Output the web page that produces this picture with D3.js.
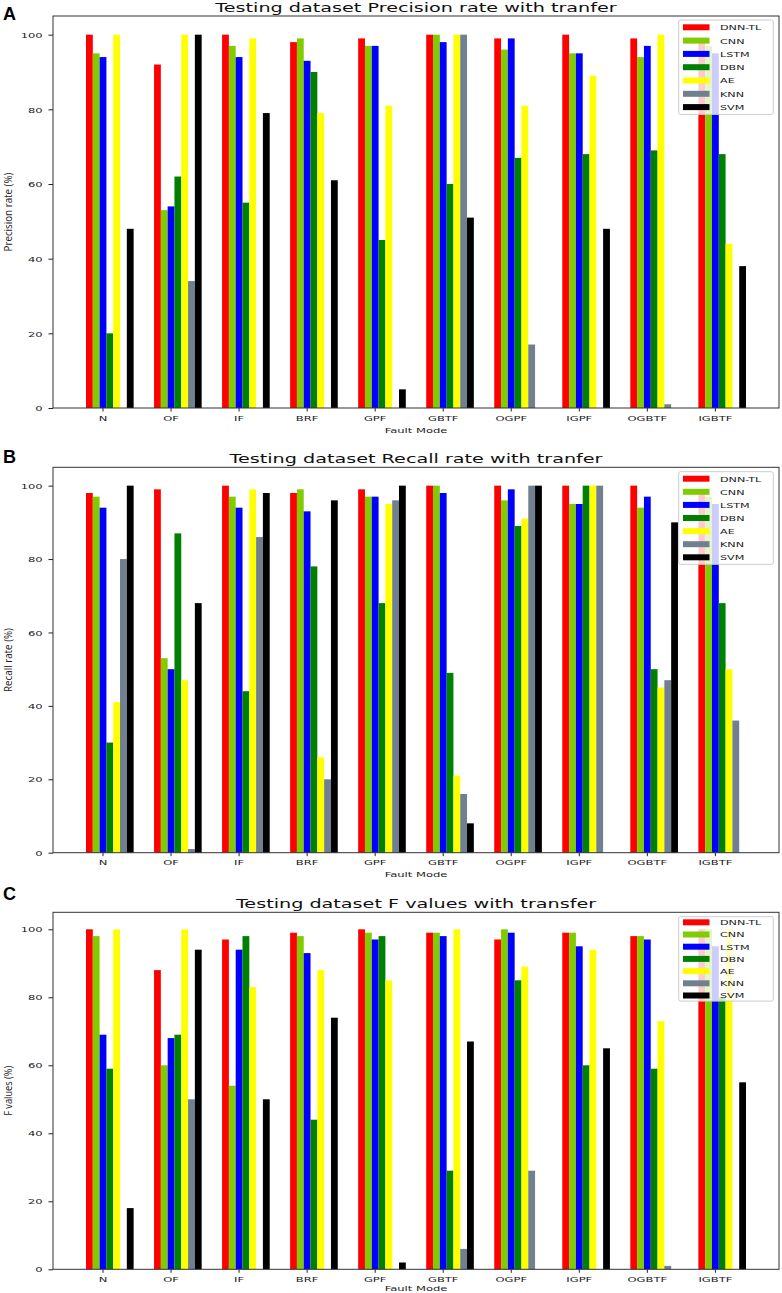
<!DOCTYPE html>
<html><head><meta charset="utf-8">
<script src="https://cdn.jsdelivr.net/npm/d3@7"></script>
<style>body{margin:0;background:#fff;} svg{display:block}</style>
</head><body>
<svg id="chart" width="782" height="1293"></svg>
<script>
// ---- data ----
const categories = ["N","OF","IF","BRF","GPF","GBTF","OGPF","IGPF","OGBTF","IGBTF"];
const seriesNames = ["DNN-TL","CNN","LSTM","DBN","AE","KNN","SVM"];
const seriesColors = ["#ff0000","#80cc00","#0000ff","#008000","#ffff00","#708090","#000000"];
const yTicks = [0,20,40,60,80,100];

// rows follow seriesNames, columns follow categories
const precision = [
  [100, 92,100, 98, 99,100, 99,100, 99, 99],
  [ 95, 53, 97, 99, 97,100, 96, 95, 94, 97],
  [ 94, 54, 94, 93, 97, 98, 99, 95, 97, 95],
  [ 20, 62, 55, 90, 45, 60, 67, 68, 69, 68],
  [100,100, 99, 79, 81,100, 81, 89,100, 44],
  [  0, 34,  0,  0,  0,100, 17,  0,  1,  0],
  [ 48,100, 79, 61,  5, 51,  0, 48,  0, 38]
];
const recall = [
  [ 98, 99,100, 98, 99,100,100,100,100, 98],
  [ 97, 53, 97, 99, 97,100, 96, 95, 94, 97],
  [ 94, 50, 94, 93, 97, 98, 99, 95, 97, 95],
  [ 30, 87, 44, 78, 68, 49, 89,100, 50, 68],
  [ 41, 47, 99, 26, 95, 21, 91,100, 45, 50],
  [ 80,  1, 86, 20, 96, 16,100,100, 47, 36],
  [100, 68, 98, 96,100,  8,100,  0, 90,  0]
];
const fValues = [
  [100, 88, 97, 99,100, 99, 97, 99, 98,100],
  [ 98, 60, 54, 98, 99, 99,100, 99, 98,100],
  [ 69, 68, 94, 93, 97, 98, 99, 95, 97, 95],
  [ 59, 69, 98, 44, 98, 29, 85, 60, 59, 80],
  [100,100, 83, 88, 85,100, 89, 94, 73,100],
  [  0, 50,  0,  0,  0,  6, 29,  0,  1,  0],
  [ 18, 94, 50, 74,  2, 67,  0, 65,  0, 55]
];
const panelTitles = ["Testing dataset Precision rate with tranfer","Testing dataset Recall rate with tranfer","Testing dataset F values with transfer"];
const panelLetters = ["A","B","C"];
const yAxisLabels = ["Precision rate (%)","Recall rate (%)","F values (%)"];
const xAxisLabel = "Fault Mode";

// ---- layout ----
const panels = [
  {values: precision, top: 16,    bottom: 408,    legTop: 20,    legRow0: 27.3,  legStep: 13.3, letterY: 19.5,  ylabLen: 79, tickOff: 12.6, xlabOff: 24.8},
  {values: recall,    top: 467.3, bottom: 852.7,  legTop: 471.7, legRow0: 478.7, legStep: 13.1, letterY: 462.5, ylabLen: 64, tickOff: 12.5, xlabOff: 24},
  {values: fValues,   top: 912.3, bottom: 1269.3, legTop: 916.7, legRow0: 922.3, legStep: 12.2, letterY: 900,   ylabLen: 50, tickOff: 12.2, xlabOff: 22}
];
const left = 53, right = 779, SX = 1.5;
const svg = d3.select("#chart");
const FONT = "'DejaVu Sans', Verdana, sans-serif";

const x = d3.scaleBand().domain(categories).range([left, right]).paddingInner(0.3).paddingOuter(0.485);
const x1 = d3.scaleBand().domain(seriesNames).range([0, x.bandwidth()]);
const color = d3.scaleOrdinal().domain(seriesNames).range(seriesColors);
const tickShift = x1("LSTM") + x1.bandwidth() / 2 - x.bandwidth() / 2;

panels.forEach((p, pi) => {
  const g = svg.append("g");
  const y = d3.scaleLinear().domain([0, 105]).range([p.bottom, p.top]);

  // bars
  seriesNames.forEach((s, si) => {
    g.append("g").selectAll("rect")
      .data(categories.map((c, ci) => ({c, v: p.values[si][ci]})))
      .join("rect")
      .attr("x", d => x(d.c) + x1(s))
      .attr("width", x1.bandwidth())
      .attr("y", d => y(d.v))
      .attr("height", d => y(0) - y(d.v))
      .attr("fill", color(s));
  });

  // y axis
  const ya = g.append("g").attr("transform", `translate(${left},0)`)
    .call(d3.axisLeft(y).tickValues(yTicks).tickSize(4.5));
  ya.select(".domain").remove();
  ya.selectAll(".tick line").attr("stroke", "#222");
  ya.selectAll(".tick text")
    .attr("x", null).attr("dy", "0.35em")
    .attr("transform", "translate(-10.3,0) scale(" + SX + ",1)")
    .attr("font-family", FONT).attr("font-size", 7.7).attr("fill", "#222");

  // x axis
  const xa = g.append("g").attr("transform", `translate(${tickShift},${p.bottom})`)
    .call(d3.axisBottom(x).tickSize(3.5));
  xa.select(".domain").remove();
  xa.selectAll(".tick line").attr("stroke", "#222");
  xa.selectAll(".tick text")
    .attr("y", null).attr("dy", null)
    .attr("transform", `translate(0,${p.tickOff}) scale(${SX},1)`)
    .attr("font-family", FONT).attr("font-size", 7.7).attr("fill", "#222");

  // spines
  g.append("rect").attr("x", left).attr("y", p.top)
    .attr("width", right - left).attr("height", p.bottom - p.top)
    .attr("fill", "none").attr("stroke", "#333").attr("stroke-width", 1);

  // x label
  g.append("text").text(xAxisLabel)
    .attr("transform", `translate(${(left + right) / 2},${p.bottom + p.xlabOff}) scale(${SX},1)`)
    .attr("text-anchor", "middle").attr("font-family", FONT).attr("font-size", 7.7).attr("fill", "#222");

  // y label
  g.append("text").text(yAxisLabels[pi])
    .attr("transform", `translate(12,${(p.top + p.bottom) / 2}) scale(1.2,1) rotate(-90)`)
    .attr("text-anchor", "middle").attr("font-family", "'Open Sans', sans-serif").attr("font-size", 9.2)
    .attr("textLength", p.ylabLen).attr("lengthAdjust", "spacingAndGlyphs").attr("fill", "#222");

  // title
  g.append("text").text(panelTitles[pi])
    .attr("transform", `translate(${(left + right) / 2},${p.top - 4.3}) scale(${SX},1)`)
    .attr("text-anchor", "middle").attr("font-family", FONT).attr("font-size", 12.8).attr("fill", "#111");

  // panel letter
  g.append("text").text(panelLetters[pi])
    .attr("x", 3).attr("y", p.letterY)
    .attr("font-family", "'Liberation Sans', Arial, sans-serif").attr("font-weight", "bold")
    .attr("font-size", 18).attr("fill", "#000");

  // legend
  const legW = 94.6, pad = p.legRow0 - p.legTop;
  const legH = pad * 2 + p.legStep * (seriesNames.length - 1);
  const lg = g.append("g").attr("transform", `translate(678.7,${p.legTop})`);
  lg.append("rect").attr("width", legW).attr("height", legH).attr("rx", 2)
    .attr("fill", "#fff").attr("fill-opacity", 0.8).attr("stroke", "#cccccc").attr("stroke-width", 1);
  seriesNames.forEach((s, si) => {
    const cy = pad + si * p.legStep;
    lg.append("rect").attr("x", 4.3).attr("y", cy - 3).attr("width", 26.5).attr("height", 6).attr("fill", color(s));
    lg.append("text").text(s)
      .attr("transform", `translate(41.3,${cy + 2.9}) scale(1.45,1)`)
      .attr("font-family", FONT).attr("font-size", 7.7).attr("fill", "#222");
  });
});
</script>
</body></html>
